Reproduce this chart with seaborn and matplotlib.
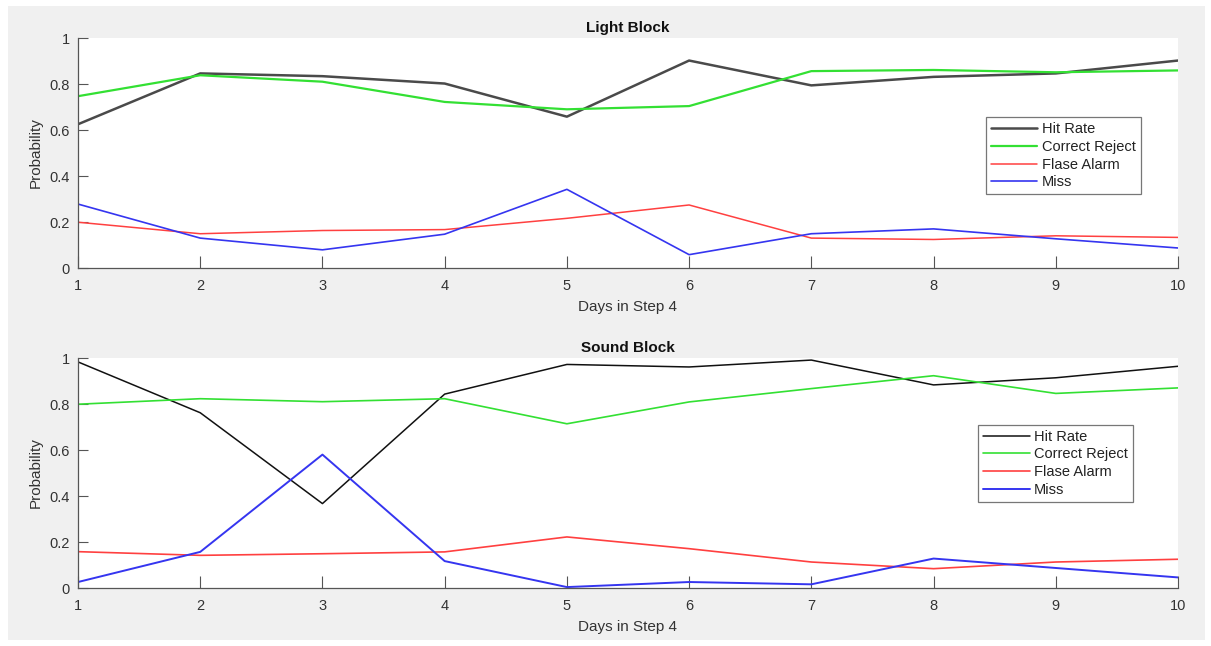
import matplotlib
matplotlib.use("Agg")
import matplotlib.pyplot as plt
import seaborn as sns
import pandas as pd
from matplotlib.patches import Rectangle

days = [1, 2, 3, 4, 5, 6, 7, 8, 9, 10]
series_names = ["Hit Rate", "Correct Reject", "Flase Alarm", "Miss"]

light_hit = [0.625, 0.846, 0.834, 0.802, 0.658, 0.902, 0.794, 0.831, 0.846, 0.902]
light_cr = [0.747, 0.838, 0.810, 0.722, 0.690, 0.704, 0.856, 0.861, 0.851, 0.859]
light_fa = [0.199, 0.149, 0.163, 0.167, 0.216, 0.274, 0.130, 0.124, 0.140, 0.133]
light_miss = [0.278, 0.130, 0.079, 0.147, 0.342, 0.058, 0.149, 0.170, 0.127, 0.087]

sound_hit = [0.983, 0.762, 0.367, 0.843, 0.972, 0.961, 0.991, 0.883, 0.914, 0.964]
sound_cr = [0.799, 0.823, 0.810, 0.823, 0.714, 0.809, 0.867, 0.923, 0.846, 0.870]
sound_fa = [0.158, 0.142, 0.149, 0.157, 0.222, 0.171, 0.113, 0.084, 0.113, 0.125]
sound_miss = [0.026, 0.157, 0.580, 0.117, 0.004, 0.026, 0.016, 0.128, 0.087, 0.046]

x_ticks = [1, 2, 3, 4, 5, 6, 7, 8, 9, 10]
y_ticks = [0, 0.2, 0.4, 0.6, 0.8, 1]
y_tick_labels = ["0", "0.2", "0.4", "0.6", "0.8", "1"]

sns.set_theme(style="white")
plt.rcParams["font.family"] = ["Liberation Sans", "DejaVu Sans"]

fig = plt.figure(figsize=(12.11, 6.46), dpi=100)
fig.patch.set_facecolor("white")
fig.add_artist(Rectangle((8 / 1211, 6 / 646), 1197 / 1211, 634 / 646,
                         transform=fig.transFigure, facecolor="#f0f0f0",
                         edgecolor="none", zorder=-10))

ax_top = fig.add_axes([78 / 1211, 1 - 268 / 646, 1100 / 1211, 230 / 646])
ax_bot = fig.add_axes([78 / 1211, 1 - 588 / 646, 1100 / 1211, 230 / 646])


def build_df(vals):
    rows = []
    for name, v in zip(series_names, vals):
        for d, p in zip(days, v):
            rows.append({"Day": d, "Probability": p, "Measure": name})
    return pd.DataFrame(rows)


def draw(ax, vals, colors, widths, title, leg_anchor):
    df = build_df(vals)
    for name in series_names:
        sub = df[df["Measure"] == name]
        sns.lineplot(data=sub, x="Day", y="Probability", ax=ax,
                     color=colors[name], linewidth=widths[name], label=name)
    ax.set_facecolor("white")
    ax.set_xlim(1, 10)
    ax.set_ylim(0, 1)
    ax.set_xticks(x_ticks)
    ax.set_yticks(y_ticks)
    ax.set_yticklabels(y_tick_labels)
    for s in ["top", "right"]:
        ax.spines[s].set_visible(False)
    for s in ["left", "bottom"]:
        ax.spines[s].set_color("#555555")
        ax.spines[s].set_linewidth(0.9)
    ax.tick_params(axis="both", direction="in", length=7, width=0.8,
                   colors="#555555", labelcolor="#333333", labelsize=10.5,
                   left=True, bottom=True, pad=6)
    ax.tick_params(axis="x", length=9, pad=8)
    ax.set_xlabel("Days in Step 4", fontsize=11, color="#333333", labelpad=5)
    ax.set_ylabel("Probability", fontsize=11, color="#333333", labelpad=5)
    ax.set_title(title, fontsize=11, fontweight="bold", color="#111111", pad=4)
    leg = ax.legend(loc="upper left", bbox_to_anchor=leg_anchor, frameon=True,
                    fontsize=10.5, handlelength=3.2, handletextpad=0.3,
                    borderpad=0.35, labelspacing=0.25, fancybox=False,
                    borderaxespad=0)
    leg.get_frame().set_edgecolor("#555555")
    leg.get_frame().set_linewidth(0.9)
    for t in leg.get_texts():
        t.set_color("#222222")


draw(ax_top, [light_hit, light_cr, light_fa, light_miss],
     {"Hit Rate": "#4a4a4a", "Correct Reject": "#33e033",
      "Flase Alarm": "#ff4040", "Miss": "#3535f0"},
     {"Hit Rate": 1.8, "Correct Reject": 1.6, "Flase Alarm": 1.1, "Miss": 1.2},
     "Light Block", (0.825, 0.655))

draw(ax_bot, [sound_hit, sound_cr, sound_fa, sound_miss],
     {"Hit Rate": "#111111", "Correct Reject": "#33e033",
      "Flase Alarm": "#ff4040", "Miss": "#3535f0"},
     {"Hit Rate": 1.1, "Correct Reject": 1.2, "Flase Alarm": 1.2, "Miss": 1.4},
     "Sound Block", (0.818, 0.71))

fig.savefig("out.png", dpi=100, facecolor=fig.get_facecolor())
